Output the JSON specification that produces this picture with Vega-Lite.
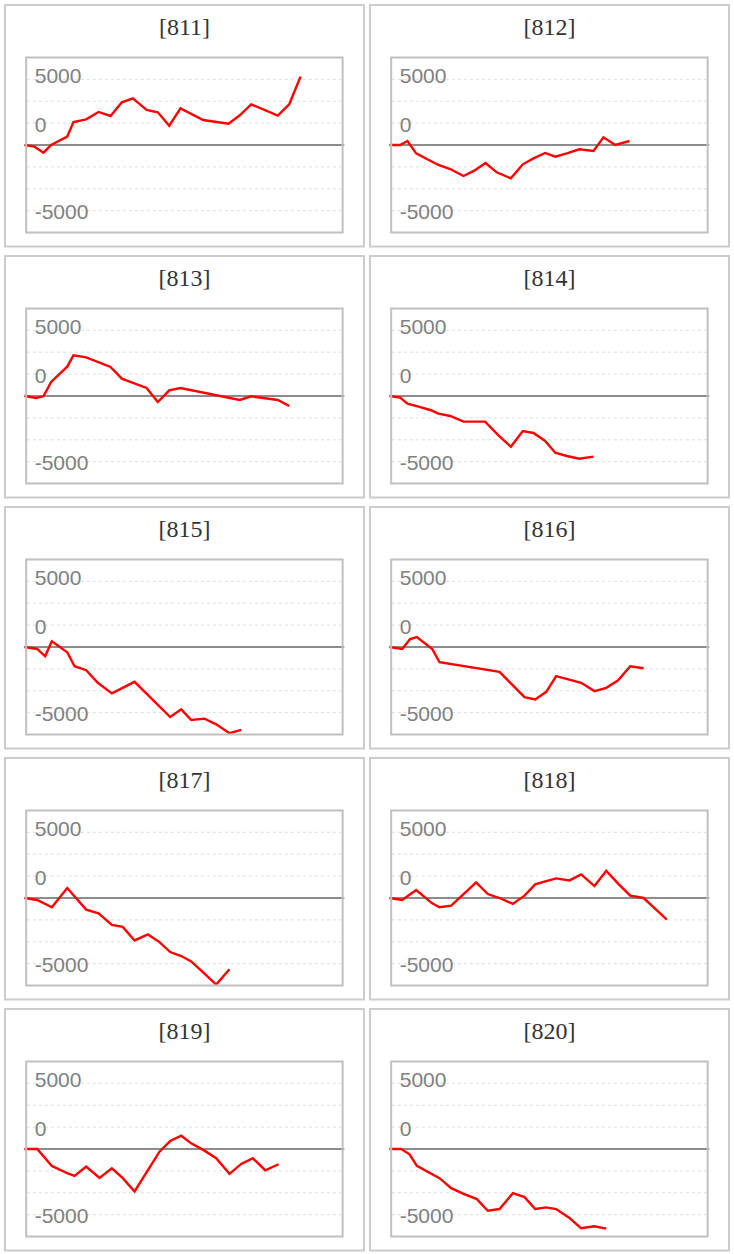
{
  "$schema": "https://vega.github.io/schema/vega-lite/v6.json",
  "padding": {"left": 4, "top": 4, "right": 0, "bottom": 0},
  "background": "white",
  "config": {"view": {"stroke": "#cccccc", "strokeWidth": 2}, "header": {"labels": false, "title": null, "labelExpr": "''", "labelFontSize": 0, "labelPadding": 0}},
  "data": {"values": [
    {"panel":"[811]","t":0,"v":0},{"panel":"[811]","t":0.83,"v":-127},{"panel":"[811]","t":1.58,"v":-584},{"panel":"[811]","t":2.22,"v":0},{"panel":"[811]","t":3.56,"v":634},{"panel":"[811]","t":4.08,"v":1751},{"panel":"[811]","t":5.14,"v":1953},{"panel":"[811]","t":6.17,"v":2512},{"panel":"[811]","t":7.17,"v":2207},{"panel":"[811]","t":8.11,"v":3247},{"panel":"[811]","t":9.03,"v":3552},{"panel":"[811]","t":10.17,"v":2664},{"panel":"[811]","t":11.11,"v":2486},{"panel":"[811]","t":12.06,"v":1471},{"panel":"[811]","t":13.0,"v":2791},{"panel":"[811]","t":14.89,"v":1903},{"panel":"[811]","t":17.0,"v":1624},{"panel":"[811]","t":17.94,"v":2258},{"panel":"[811]","t":18.89,"v":3095},{"panel":"[811]","t":21.11,"v":2233},{"panel":"[811]","t":22.06,"v":3095},{"panel":"[811]","t":23.0,"v":5201},
    {"panel":"[812]","t":0,"v":0},{"panel":"[812]","t":0.89,"v":0},{"panel":"[812]","t":1.5,"v":304},{"panel":"[812]","t":2.22,"v":-634},{"panel":"[812]","t":3.11,"v":-1066},{"panel":"[812]","t":4.08,"v":-1522},{"panel":"[812]","t":5.06,"v":-1827},{"panel":"[812]","t":6.17,"v":-2360},{"panel":"[812]","t":7.06,"v":-1954},{"panel":"[812]","t":8.0,"v":-1370},{"panel":"[812]","t":8.94,"v":-2080},{"panel":"[812]","t":10.11,"v":-2537},{"panel":"[812]","t":11.11,"v":-1471},{"panel":"[812]","t":12.0,"v":-1015},{"panel":"[812]","t":12.97,"v":-609},{"panel":"[812]","t":13.81,"v":-888},{"panel":"[812]","t":14.78,"v":-634},{"panel":"[812]","t":15.81,"v":-330},{"panel":"[812]","t":17.0,"v":-457},{"panel":"[812]","t":17.83,"v":583},{"panel":"[812]","t":18.81,"v":0},{"panel":"[812]","t":20.0,"v":304},
    {"panel":"[813]","t":0,"v":0},{"panel":"[813]","t":0.97,"v":-152},{"panel":"[813]","t":1.58,"v":-25},{"panel":"[813]","t":2.22,"v":1066},{"panel":"[813]","t":3.56,"v":2233},{"panel":"[813]","t":4.08,"v":3095},{"panel":"[813]","t":5.14,"v":2943},{"panel":"[813]","t":7.17,"v":2207},{"panel":"[813]","t":8.11,"v":1319},{"panel":"[813]","t":10.17,"v":609},{"panel":"[813]","t":11.11,"v":-457},{"panel":"[813]","t":12.06,"v":431},{"panel":"[813]","t":13.0,"v":609},{"panel":"[813]","t":17.94,"v":-304},{"panel":"[813]","t":18.89,"v":-25},{"panel":"[813]","t":21.11,"v":-304},{"panel":"[813]","t":22.06,"v":-761},
    {"panel":"[814]","t":0,"v":0},{"panel":"[814]","t":0.89,"v":-127},{"panel":"[814]","t":1.5,"v":-584},{"panel":"[814]","t":2.42,"v":-812},{"panel":"[814]","t":3.39,"v":-1066},{"panel":"[814]","t":4.08,"v":-1345},{"panel":"[814]","t":5.06,"v":-1522},{"panel":"[814]","t":6.17,"v":-1954},{"panel":"[814]","t":7.97,"v":-1954},{"panel":"[814]","t":9.08,"v":-2994},{"panel":"[814]","t":10.11,"v":-3856},{"panel":"[814]","t":11.11,"v":-2664},{"panel":"[814]","t":12.0,"v":-2816},{"panel":"[814]","t":12.97,"v":-3425},{"panel":"[814]","t":13.81,"v":-4313},{"panel":"[814]","t":14.78,"v":-4567},{"panel":"[814]","t":15.81,"v":-4770},{"panel":"[814]","t":17.0,"v":-4617},
    {"panel":"[815]","t":0,"v":0},{"panel":"[815]","t":1.06,"v":-152},{"panel":"[815]","t":1.72,"v":-707},{"panel":"[815]","t":2.28,"v":429},{"panel":"[815]","t":3.56,"v":-404},{"panel":"[815]","t":4.17,"v":-1465},{"panel":"[815]","t":5.14,"v":-1767},{"panel":"[815]","t":6.11,"v":-2727},{"panel":"[815]","t":7.28,"v":-3535},{"panel":"[815]","t":9.17,"v":-2651},{"panel":"[815]","t":12.14,"v":-5327},{"panel":"[815]","t":13.06,"v":-4747},{"panel":"[815]","t":13.89,"v":-5555},{"panel":"[815]","t":15.0,"v":-5454},{"panel":"[815]","t":15.97,"v":-5883},{"panel":"[815]","t":17.08,"v":-6565},{"panel":"[815]","t":18.06,"v":-6312},
    {"panel":"[816]","t":0,"v":0},{"panel":"[816]","t":1.06,"v":-152},{"panel":"[816]","t":1.72,"v":606},{"panel":"[816]","t":2.28,"v":757},{"panel":"[816]","t":3.56,"v":-152},{"panel":"[816]","t":4.17,"v":-1162},{"panel":"[816]","t":9.17,"v":-1894},{"panel":"[816]","t":11.25,"v":-3813},{"panel":"[816]","t":12.14,"v":-3989},{"panel":"[816]","t":13.06,"v":-3409},{"panel":"[816]","t":13.89,"v":-2222},{"panel":"[816]","t":15.97,"v":-2727},{"panel":"[816]","t":17.08,"v":-3358},{"panel":"[816]","t":18.06,"v":-3106},{"panel":"[816]","t":19.03,"v":-2550},{"panel":"[816]","t":20.06,"v":-1465},{"panel":"[816]","t":21.17,"v":-1616},
    {"panel":"[817]","t":0,"v":0},{"panel":"[817]","t":1.06,"v":-152},{"panel":"[817]","t":2.28,"v":-707},{"panel":"[817]","t":3.56,"v":757},{"panel":"[817]","t":5.14,"v":-884},{"panel":"[817]","t":6.17,"v":-1162},{"panel":"[817]","t":7.28,"v":-2045},{"panel":"[817]","t":8.19,"v":-2197},{"panel":"[817]","t":9.17,"v":-3232},{"panel":"[817]","t":10.28,"v":-2777},{"panel":"[817]","t":11.25,"v":-3358},{"panel":"[817]","t":12.14,"v":-4116},{"panel":"[817]","t":13.06,"v":-4419},{"panel":"[817]","t":13.89,"v":-4823},{"panel":"[817]","t":15.0,"v":-5757},{"panel":"[817]","t":15.97,"v":-6590},{"panel":"[817]","t":17.08,"v":-5429},
    {"panel":"[818]","t":0,"v":0},{"panel":"[818]","t":1.06,"v":-152},{"panel":"[818]","t":2.22,"v":606},{"panel":"[818]","t":3.56,"v":-404},{"panel":"[818]","t":4.17,"v":-707},{"panel":"[818]","t":5.14,"v":-580},{"panel":"[818]","t":6.17,"v":303},{"panel":"[818]","t":7.22,"v":1187},{"panel":"[818]","t":8.19,"v":303},{"panel":"[818]","t":9.17,"v":0},{"panel":"[818]","t":10.28,"v":-454},{"panel":"[818]","t":11.25,"v":177},{"panel":"[818]","t":12.14,"v":1035},{"panel":"[818]","t":13.06,"v":1288},{"panel":"[818]","t":13.89,"v":1490},{"panel":"[818]","t":15.0,"v":1338},{"panel":"[818]","t":15.97,"v":1793},{"panel":"[818]","t":17.08,"v":909},{"panel":"[818]","t":18.06,"v":2071},{"panel":"[818]","t":19.03,"v":1111},{"panel":"[818]","t":20.06,"v":177},{"panel":"[818]","t":21.17,"v":0},{"panel":"[818]","t":22.22,"v":-884},{"panel":"[818]","t":23.11,"v":-1641},
    {"panel":"[819]","t":0,"v":0},{"panel":"[819]","t":1.06,"v":0},{"panel":"[819]","t":2.28,"v":-1288},{"panel":"[819]","t":3.56,"v":-1843},{"panel":"[819]","t":4.17,"v":-2045},{"panel":"[819]","t":5.14,"v":-1338},{"panel":"[819]","t":6.25,"v":-2197},{"panel":"[819]","t":7.28,"v":-1465},{"panel":"[819]","t":8.19,"v":-2222},{"panel":"[819]","t":9.17,"v":-3232},{"panel":"[819]","t":11.25,"v":-202},{"panel":"[819]","t":12.14,"v":606},{"panel":"[819]","t":13.06,"v":1010},{"panel":"[819]","t":13.89,"v":429},{"panel":"[819]","t":15.0,"v":-126},{"panel":"[819]","t":15.97,"v":-707},{"panel":"[819]","t":17.08,"v":-1894},{"panel":"[819]","t":18.06,"v":-1136},{"panel":"[819]","t":19.03,"v":-707},{"panel":"[819]","t":20.06,"v":-1616},{"panel":"[819]","t":21.17,"v":-1162},
    {"panel":"[820]","t":0,"v":0},{"panel":"[820]","t":0.97,"v":0},{"panel":"[820]","t":1.67,"v":-404},{"panel":"[820]","t":2.28,"v":-1288},{"panel":"[820]","t":4.17,"v":-2222},{"panel":"[820]","t":5.14,"v":-2979},{"panel":"[820]","t":6.17,"v":-3409},{"panel":"[820]","t":7.28,"v":-3813},{"panel":"[820]","t":8.19,"v":-4697},{"panel":"[820]","t":9.17,"v":-4570},{"panel":"[820]","t":10.28,"v":-3358},{"panel":"[820]","t":11.25,"v":-3661},{"panel":"[820]","t":12.14,"v":-4570},{"panel":"[820]","t":13.06,"v":-4444},{"panel":"[820]","t":13.89,"v":-4570},{"panel":"[820]","t":15.0,"v":-5252},{"panel":"[820]","t":15.97,"v":-6034},{"panel":"[820]","t":17.08,"v":-5883},{"panel":"[820]","t":18.06,"v":-6060}
  ]},
  "facet": {"field": "panel", "type": "nominal", "header": null},
  "columns": 2,
  "spacing": {"column": 4, "row": 7},
  "spec": {
    "width": 359,
    "height": 241.5,
    "encoding": {
      "x": {"type": "quantitative", "scale": {"domain": [-1.625, 28.29], "nice": false, "zero": false}, "axis": null},
      "y": {"type": "quantitative", "scale": {"domain": [-7725, 10654], "nice": false, "zero": false}, "axis": null}
    },
    "layer": [
      {"transform": [{"filter": "datum.t == 0"}], "mark": {"type": "rule", "stroke": "#dcdcdc", "strokeWidth": 1, "strokeDash": [3, 3]},
       "encoding": {"x": {"datum": 0.2}, "x2": {"datum": 26.4}, "y": {"datum": 5000}}},
      {"transform": [{"filter": "datum.t == 0"}], "mark": {"type": "rule", "stroke": "#dcdcdc", "strokeWidth": 1, "strokeDash": [3, 3]},
       "encoding": {"x": {"datum": 0.2}, "x2": {"datum": 26.4}, "y": {"datum": 3333.3}}},
      {"transform": [{"filter": "datum.t == 0"}], "mark": {"type": "rule", "stroke": "#dcdcdc", "strokeWidth": 1, "strokeDash": [3, 3]},
       "encoding": {"x": {"datum": 0.2}, "x2": {"datum": 26.4}, "y": {"datum": 1666.7}}},
      {"transform": [{"filter": "datum.t == 0"}], "mark": {"type": "rule", "stroke": "#dcdcdc", "strokeWidth": 1, "strokeDash": [3, 3]},
       "encoding": {"x": {"datum": 0.2}, "x2": {"datum": 26.4}, "y": {"datum": -1666.7}}},
      {"transform": [{"filter": "datum.t == 0"}], "mark": {"type": "rule", "stroke": "#dcdcdc", "strokeWidth": 1, "strokeDash": [3, 3]},
       "encoding": {"x": {"datum": 0.2}, "x2": {"datum": 26.4}, "y": {"datum": -3333.3}}},
      {"transform": [{"filter": "datum.t == 0"}], "mark": {"type": "rule", "stroke": "#dcdcdc", "strokeWidth": 1, "strokeDash": [3, 3]},
       "encoding": {"x": {"datum": 0.2}, "x2": {"datum": 26.4}, "y": {"datum": -5000}}},
      {"transform": [{"filter": "datum.t == 0"}], "mark": {"type": "rule", "stroke": "#8c8c8c", "strokeWidth": 2},
       "encoding": {"x": {"datum": 0}, "x2": {"datum": 26.65}, "y": {"datum": 0}}},
      {"transform": [{"filter": "datum.t == 0"}], "mark": {"type": "text", "align": "left", "baseline": "middle", "font": "Liberation Sans", "fontSize": 21, "color": "#808080"},
       "encoding": {"x": {"datum": 0.85}, "y": {"datum": 5150}, "text": {"value": "5000"}}},
      {"transform": [{"filter": "datum.t == 0"}], "mark": {"type": "text", "align": "left", "baseline": "middle", "font": "Liberation Sans", "fontSize": 21, "color": "#808080"},
       "encoding": {"x": {"datum": 0.85}, "y": {"datum": 1480}, "text": {"value": "0"}}},
      {"transform": [{"filter": "datum.t == 0"}], "mark": {"type": "text", "align": "left", "baseline": "middle", "font": "Liberation Sans", "fontSize": 21, "color": "#808080"},
       "encoding": {"x": {"datum": 0.85}, "y": {"datum": -5180}, "text": {"value": "-5000"}}},
      {"mark": {"type": "line", "color": "#ff0000", "strokeWidth": 2.4},
       "encoding": {"x": {"field": "t", "type": "quantitative"}, "y": {"field": "v", "type": "quantitative"}}},
      {"transform": [{"filter": "datum.t == 0"}], "mark": {"type": "rect", "fill": "white", "fillOpacity": 0, "stroke": "#c0c0c0", "strokeWidth": 2},
       "encoding": {"x": {"datum": 0.14}, "x2": {"datum": 26.51}, "y": {"datum": 6667}, "y2": {"datum": -6667}}},
      {"transform": [{"filter": "datum.t == 0"}], "mark": {"type": "text", "align": "center", "baseline": "middle", "font": "Liberation Serif", "fontSize": 24, "color": "#333333"},
       "encoding": {"x": {"datum": 13.33}, "y": {"datum": 8910}, "text": {"field": "panel"}}}
    ]
  }
}
